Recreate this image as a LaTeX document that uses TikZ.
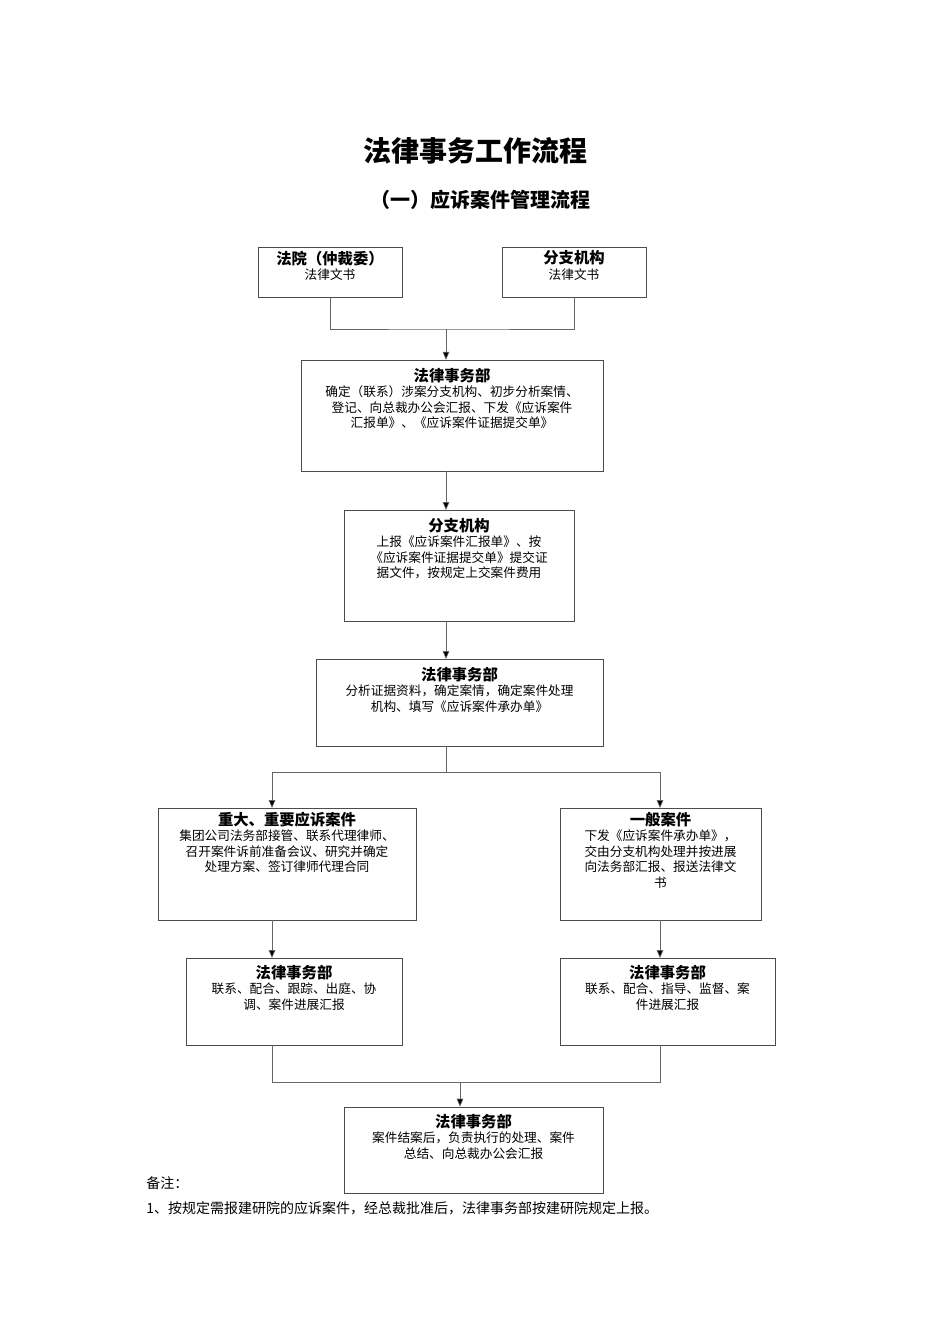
\documentclass[tikz,border=0pt]{standalone}
\usepackage{fontspec}
\setmainfont{Noto Sans CJK SC}
\usetikzlibrary{arrows.meta,positioning,calc}
\newcommand{\boxhead}[1]{{\fontsize{11.5}{13}\selectfont\bfseries #1}}

\begin{document}
\begin{tikzpicture}[
    x=0.75pt, y=-0.75pt,
    box/.style={rectangle, draw=black!70, line width=0.5pt, inner sep=0pt},
    boxtext/.style={anchor=north, align=center, inner sep=0pt, font=\fontsize{9.5}{11.6}\selectfont},
    line/.style={draw=black!60, line width=0.5pt},
    arrow/.style={line, -{Triangle[length=6pt,width=5pt,fill=black]}}
]
    \useasboundingbox (0,0) rectangle (950,1344);

    % Titles
    \node[font=\fontsize{21}{24}\selectfont\bfseries] (title) at (475,151) {法律事务工作流程};
    \node[font=\fontsize{15}{18}\selectfont\bfseries] (subtitle) at (480,200) {（一）应诉案件管理流程};

    % Sources
    \node[box, minimum width=108pt, minimum height=37pt] (court) at (330,272.5) {};
    \node[boxtext] at ($(court.north)+(0,3)$) {\boxhead{法院（仲裁委）}\\法律文书};
    \node[box, minimum width=108pt, minimum height=37pt] (branch) at (574,272.5) {};
    \node[boxtext] at ($(branch.north)+(0,3)$) {\boxhead{分支机构}\\法律文书};

    % Registration
    \node[box, minimum width=226.5pt, minimum height=83pt] (reg) at (452,415.5) {};
    \node[boxtext] at ($(reg.north)+(0,8)$) {\boxhead{法律事务部}\\确定（联系）涉案分支机构、初步分析案情、\\登记、向总裁办公会汇报、下发《应诉案件\\汇报单》、《应诉案件证据提交单》};

    % Branch submission
    \node[box, minimum width=172.5pt, minimum height=83pt] (submit) at (459,565.5) {};
    \node[boxtext] at ($(submit.north)+(0,8)$) {\boxhead{分支机构}\\上报《应诉案件汇报单》、按\\《应诉案件证据提交单》提交证\\据文件，按规定上交案件费用};

    % Analysis
    \node[box, minimum width=215pt, minimum height=65pt] (analyse) at (459.5,702.5) {};
    \node[boxtext] at ($(analyse.north)+(0,8)$) {\boxhead{法律事务部}\\分析证据资料，确定案情，确定案件处理\\机构、填写《应诉案件承办单》};

    % Major / general cases
    \node[box, minimum width=193.5pt, minimum height=84pt] (major) at (287,864) {};
    \node[boxtext] at ($(major.north)+(0,4)$) {\boxhead{重大、重要应诉案件}\\集团公司法务部接管、联系代理律师、\\召开案件诉前准备会议、研究并确定\\处理方案、签订律师代理合同};
    \node[box, minimum width=150.75pt, minimum height=84pt] (general) at (660.5,864) {};
    \node[boxtext] at ($(general.north)+(0,4)$) {\boxhead{一般案件}\\下发《应诉案件承办单》，\\交由分支机构处理并按进展\\向法务部汇报、报送法律文\\书};

    % Follow-up
    \node[box, minimum width=162pt, minimum height=65pt] (followA) at (294,1001.5) {};
    \node[boxtext] at ($(followA.north)+(0,7)$) {\boxhead{法律事务部}\\联系、配合、跟踪、出庭、协\\调、案件进展汇报};
    \node[box, minimum width=161.25pt, minimum height=65pt] (followB) at (667.5,1001.5) {};
    \node[boxtext] at ($(followB.north)+(0,7)$) {\boxhead{法律事务部}\\联系、配合、指导、监督、案\\件进展汇报};

    % Closing
    \node[box, minimum width=194pt, minimum height=64.5pt] (close) at (473.5,1150) {};
    \node[boxtext] at ($(close.north)+(0,7)$) {\boxhead{法律事务部}\\案件结案后，负责执行的处理、案件\\总结、向总裁办公会汇报};

    % Notes
    \node[anchor=west, inner sep=0pt, font=\fontsize{10.5}{12}\selectfont] (note) at (146,1183) {备注：};
    \node[anchor=west, inner sep=0pt, font=\fontsize{10.5}{12}\selectfont] (note1) at (146,1208) {1、按规定需报建研院的应诉案件，经总裁批准后，法律事务部按建研院规定上报。};

    % Connectors
    \coordinate (joinA) at (446,329);
    \draw[line] (court.south) |- (joinA) -| (branch.south);
    \draw[arrow] (joinA) -- (joinA |- reg.north);
    \draw[arrow] (446,471) -- (446,510);
    \draw[arrow] (446,621) -- (446,659);
    \coordinate (split) at (446,772);
    \draw[line] (446,746) -- (split);
    \draw[arrow] (split) -| (272,808);
    \draw[arrow] (split) -| (660,808);
    \draw[arrow] (272,920) -- (272,958);
    \draw[arrow] (660,920) -- (660,958);
    \coordinate (joinB) at (460,1082);
    \draw[line] (272,1045) |- (joinB) -| (660,1045);
    \draw[arrow] (joinB) -- (joinB |- close.north);
\end{tikzpicture}
\end{document}
